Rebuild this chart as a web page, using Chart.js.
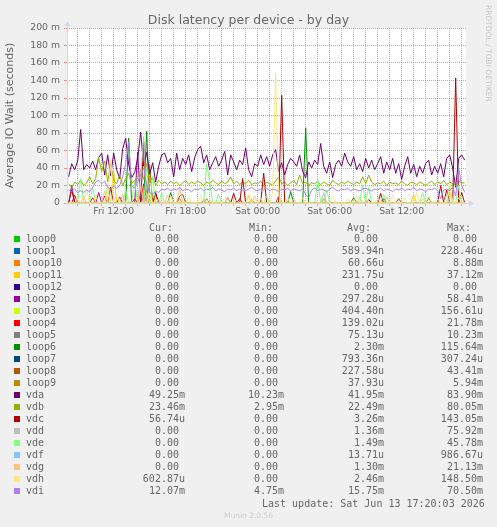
<!DOCTYPE html>
<html><head><meta charset="utf-8">
<script src="https://cdn.jsdelivr.net/npm/chart.js@4.4.1/dist/chart.umd.min.js"></script>
<style>
html,body{margin:0;padding:0;background:#f0f0f0;}
#wrap{position:relative;width:497px;height:527px;overflow:hidden;background:#f0f0f0;}
canvas{position:absolute;left:0;top:0;}
.m{position:absolute;white-space:pre;color:#666;font-family:"DejaVu Sans Mono",monospace;font-size:10px;line-height:12px;}
.sq{position:absolute;width:6px;height:6px;}
#title{position:absolute;left:0;top:12px;width:497px;text-align:center;font-family:"DejaVu Sans",sans-serif;font-size:12.5px;line-height:15px;color:#666;white-space:pre;}
#rrd{position:absolute;left:484px;top:5px;writing-mode:vertical-rl;font-family:"DejaVu Sans",sans-serif;font-size:7.5px;line-height:9px;color:#c8c8c8;white-space:pre;}
#munin{position:absolute;left:0;top:511px;width:497px;text-align:center;font-family:"DejaVu Sans",sans-serif;font-size:7.5px;line-height:9px;color:#cccccc;white-space:pre;}
</style></head>
<body><div id="wrap">
<canvas id="c" width="497" height="527"></canvas>
<div id="title">Disk latency per device - by day</div>
<div id="rrd">RRDTOOL / TOBI OETIKER</div>
<div id="munin">Munin 2.0.56</div>
</div>
<script>
// sample grid: hours since Fri 00:00, one sample every 15 minutes
const T0 = 8.25, STEP = 0.25, NSAMP = 133;
// values in milliseconds (axis shows "m")
const vda = [30,45,38,48,84,38,44,40,48,38,
52,57,32,55,31,57,38,28,62,74,
44,29,35,51,81,42,58,33,46,24,
42,55,57,46,51,30,57,38,51,44,
55,36,52,61,65,46,55,38,46,53,
42,49,59,32,55,47,38,49,44,63,
38,30,45,42,55,44,53,42,55,61,
36,46,32,44,51,47,42,55,36,29,
47,40,49,44,68,42,34,47,29,44,
49,42,57,47,42,53,38,45,36,51,
40,49,38,45,53,34,47,38,51,34,
45,27,42,53,34,44,30,42,34,45,
49,32,42,34,45,30,51,55,40,18,
51,55,49];
const vdb = [22,18,24,21,26,20,23,30,22,28,
52,36,48,24,45,26,22,32,20,28,
34,22,26,30,38,27,45,24,30,20,
26,22,24,21,25,22,24,20,23,26,
21,24,22,25,23,20,24,22,26,23,
21,25,22,24,30,22,25,21,24,22,
26,21,23,22,25,20,24,22,21,25,
30,22,24,20,23,26,21,32,22,24,
20,23,22,25,21,24,22,20,26,23,
21,24,22,25,23,21,24,22,30,22,
32,24,21,23,22,25,20,24,22,23,
21,25,22,20,24,23,21,24,22,20,
23,25,21,24,22,26,21,24,22,20,
25,23,23];
const vdi = [15,13,16,12,14,12,15,13,18,24,
26,22,25,18,16,19,17,20,30,45,
70,20,17,24,32,40,22,12,10,14,
12,16,15,17,14,16,15,18,14,16,
15,13,16,15,17,14,16,15,18,14,
16,15,13,16,15,17,14,16,15,14,
16,18,15,14,16,15,17,14,16,15,
13,16,15,17,14,16,15,14,16,10,
6,15,17,14,16,15,13,16,18,15,
14,16,15,17,14,16,15,14,16,17,
15,14,16,15,17,14,16,15,13,16,
15,17,14,16,15,18,14,16,15,13,
16,15,17,14,5,15,16,14,18,8,
40,20,12];
// sparse series: [hour, value ms]; all other samples are 0
const loop0Pts = [];
const loop1Pts = [[15.75,0.23]];
const loop10Pts = [[14.75,8.9],[17.5,5],[23.5,4]];
const loop11Pts = [[12.0,37],[15.25,10],[23.25,8],[37.0,9],[40.0,12]];
const loop12Pts = [];
const loop2Pts = [[8.5,20],[10.75,12],[14.0,58]];
const loop3Pts = [[20.75,0.16]];
const loop4Pts = [[8.75,9],[10.25,6],[11.25,8],[12.5,7],[13.75,5],[14.5,22],[15.5,10],[22.5,5],[33.25,4]];
const loop5Pts = [[14.25,10.2],[19.75,5],[29.5,4]];
const loop6Pts = [[13.25,74],[14.75,82],[16.75,12],[26.75,13],[28.0,86],[32.0,6],[34.5,5],[38.25,6]];
const loop7Pts = [[25.75,0.31]];
const loop8Pts = [[15.0,43],[17.5,8],[17.75,10],[21.5,6],[25.75,8],[35.75,5]];
const loop9Pts = [[14.75,5.9],[19.5,3]];
const vdcPts = [[8.5,15],[11.75,18],[14.5,70],[15.5,12],[22.0,11],[22.75,28],[24.5,34],[26.0,123],[34.25,11],[39.25,20],[39.75,15],[40.5,143],[41.0,12]];
const vddPts = [[14.25,30],[14.5,76],[29.5,12],[32.5,6],[39.75,10]];
const vdePts = [[9.25,28],[10.25,18],[11.5,20],[13.0,15],[13.75,25],[14.75,41],[15.25,30],[16.0,12],[19.75,44],[20.0,25],[20.75,10],[24.75,8],[29.0,28],[29.75,15],[32.75,21],[33.25,18],[34.5,10],[37.75,12],[40.0,23],[40.75,20]];
const vdfPts = [[14.75,0.99]];
const vdgPts = [[9.5,8],[11.25,14],[12.75,10],[14.25,21],[14.75,12],[16.5,9],[17.5,18],[19.5,6],[21.5,5],[23.75,8],[27.0,5],[29.5,6],[32.0,4],[34.75,7],[37.75,5]];
const vdhPts = [[9.0,6],[9.75,15],[10.5,8],[11.75,50],[12.25,10],[13.25,6],[15.0,12],[15.75,5],[16.75,8],[18.25,6],[19.25,9],[20.0,5],[21.25,7],[22.25,4],[23.25,10],[24.25,6],[25.25,12],[25.5,148.5],[25.75,8],[26.5,5],[27.75,6],[28.75,4],[30.25,8],[31.5,5],[32.25,9],[33.0,6],[34.0,5],[35.25,9],[36.25,6],[37.25,12],[38.25,8],[39.0,5],[40.0,22],[40.75,6]];

const names = ['loop0','loop1','loop10','loop11','loop12','loop2','loop3','loop4','loop5','loop6','loop7','loop8','loop9','vda','vdb','vdc','vdd','vde','vdf','vdg','vdh','vdi'];
const colors = ['#00cc00','#0066b3','#ff8000','#ffcc00','#330099','#990099','#ccff00','#ff0000','#808080','#008f00','#00487d','#b35a00','#b38f00','#6b006b','#8fb300','#b30000','#bebebe','#80ff80','#80c9ff','#ffc080','#ffe680','#aa80ff'];
const curStr = ['0.00','0.00','0.00','0.00','0.00','0.00','0.00','0.00','0.00','0.00','0.00','0.00','0.00','49.25m','23.46m','56.74u','0.00','0.00','0.00','0.00','602.87u','12.07m'];
const minStr = ['0.00','0.00','0.00','0.00','0.00','0.00','0.00','0.00','0.00','0.00','0.00','0.00','0.00','10.23m','2.95m','0.00','0.00','0.00','0.00','0.00','0.00','4.75m'];
const avgStr = ['0.00','589.94n','60.66u','231.75u','0.00','297.28u','404.40n','139.02u','75.13u','2.30m','793.36n','227.58u','37.93u','41.95m','22.49m','3.26m','1.36m','1.49m','13.71u','1.30m','2.46m','15.75m'];
const maxStr = ['0.00','228.46u','8.88m','37.12m','0.00','58.41m','156.61u','21.78m','10.23m','115.64m','307.24u','43.41m','5.94m','83.90m','80.05m','143.05m','75.92m','45.78m','986.67u','21.13m','148.50m','70.50m'];

const xGridHours = [9,10,11,12,13,14,15,16,17,18,19,20,21,22,23,24,25,26,27,28,29,30,31,32,33,34,35,36,37,38,39,40,41];
const xTickHours = [12,18,24,30,36];
const xTickLabels = ['Fri 12:00','Fri 18:00','Sat 00:00','Sat 06:00','Sat 12:00'];
const yGridValues = [0,10,20,30,40,50,60,70,80,90,100,110,120,130,140,150,160,170,180,190,200];
const yTickValues = [0,20,40,60,80,100,120,140,160,180,200];
const yTickLabels = ['0','20 m','40 m','60 m','80 m','100 m','120 m','140 m','160 m','180 m','200 m'];

const times = [];
for (let k = 0; k < NSAMP; k++) times.push(T0 + k * STEP);
function fromPts(pts) {
  const arr = times.map(() => 0);
  pts.forEach(([h, v]) => { arr[Math.round((h - T0) / STEP)] = v; });
  return arr;
}
const seriesData = [fromPts(loop0Pts),fromPts(loop1Pts),fromPts(loop10Pts),fromPts(loop11Pts),fromPts(loop12Pts),
  fromPts(loop2Pts),fromPts(loop3Pts),fromPts(loop4Pts),fromPts(loop5Pts),fromPts(loop6Pts),fromPts(loop7Pts),
  fromPts(loop8Pts),fromPts(loop9Pts),vda,vdb,fromPts(vdcPts),fromPts(vddPts),fromPts(vdePts),fromPts(vdfPts),
  fromPts(vdgPts),fromPts(vdhPts),vdi];

const MAJOR = 'rgba(222,79,79,0.6)';
const MINOR = 'rgba(128,128,128,0.5)';
const AXIS = '#cfd6f8';

const bgPlugin = {
  id: 'bg',
  beforeDraw(chart) {
    const a = chart.chartArea, ctx = chart.ctx;
    ctx.save(); ctx.fillStyle = '#ffffff';
    ctx.fillRect(a.left, a.top, a.right - a.left, a.bottom - a.top);
    ctx.restore();
  },
  afterDraw(chart) {
    const a = chart.chartArea, ctx = chart.ctx;
    ctx.save();
    ctx.strokeStyle = AXIS; ctx.fillStyle = AXIS; ctx.lineWidth = 1;
    const x0 = Math.round(a.left) + 0.5, y0 = Math.round(a.bottom) + 0.5;
    ctx.beginPath(); ctx.moveTo(x0, y0 + 2); ctx.lineTo(x0, a.top - 4); ctx.stroke();
    ctx.beginPath(); ctx.moveTo(x0 - 3, a.top - 2); ctx.lineTo(x0 + 3, a.top - 2); ctx.lineTo(x0, a.top - 7); ctx.closePath(); ctx.fill();
    ctx.beginPath(); ctx.moveTo(x0 - 2, y0); ctx.lineTo(a.right + 4, y0); ctx.stroke();
    ctx.beginPath(); ctx.moveTo(a.right + 3, y0 - 3); ctx.lineTo(a.right + 3, y0 + 3); ctx.lineTo(a.right + 8, y0); ctx.closePath(); ctx.fill();
    ctx.restore();
  }
};

const datasets = names.map((n, i) => ({
  label: n,
  data: seriesData[i].map((v, k) => ({ x: times[k], y: v })),
  borderColor: colors[i],
  backgroundColor: colors[i],
  borderWidth: 1,
  pointRadius: 0,
  fill: false,
  tension: 0,
  order: names.length - i
}));

const tickFont = { family: 'DejaVu Sans', size: 9.3 };
new Chart(document.getElementById('c'), {
  type: 'line',
  data: { datasets },
  options: {
    responsive: false,
    animation: false,
    devicePixelRatio: 1,
    events: [],
    layout: { padding: { left: 0, right: 31, top: 28, bottom: 300 } },
    plugins: { legend: { display: false }, tooltip: { enabled: false }, title: { display: false } },
    scales: {
      x: {
        type: 'linear', min: 8.11, max: 41.36,
        afterBuildTicks: s => { s.ticks = xGridHours.map(v => ({ value: v })); },
        afterFit: s => { s.height = 24; },
        ticks: {
          autoSkip: false, maxRotation: 0, minRotation: 0, padding: 0, color: '#666', font: tickFont,
          callback: v => { const k = xTickHours.indexOf(v); return k >= 0 ? xTickLabels[k] : ''; }
        },
        grid: {
          color: c => (c.tick && c.tick.value % 3 === 0) ? MAJOR : MINOR,
          tickColor: c => (c.tick && c.tick.value % 3 === 0) ? MAJOR : MINOR,
          drawTicks: true, tickLength: 3, lineWidth: 1
        },
        border: { display: false, dash: [1, 1] }
      },
      y: {
        type: 'linear', min: 0, max: 200,
        afterBuildTicks: s => { s.ticks = yGridValues.map(v => ({ value: v })); },
        afterFit: s => { s.width = 67; },
        ticks: {
          padding: 4, color: '#666', font: tickFont,
          callback: v => { const k = yTickValues.indexOf(v); return k >= 0 ? yTickLabels[k] : ''; }
        },
        grid: {
          color: c => (c.tick && c.tick.value % 20 === 0) ? MAJOR : MINOR,
          tickColor: c => (c.tick && c.tick.value % 20 === 0) ? MAJOR : MINOR,
          drawTicks: true, tickLength: 3, lineWidth: 1
        },
        border: { display: false, dash: [1, 1] },
        title: { display: true, text: 'Average IO Wait (seconds)', color: '#666',
          font: { family: 'DejaVu Sans', size: 11 }, padding: { top: 4, bottom: 0 } }
      }
    }
  },
  plugins: [bgPlugin]
});

// legend (munin-style text table)
const wrap = document.getElementById('wrap');
function addText(txt, opts) {
  const d = document.createElement('div');
  d.className = 'm';
  d.textContent = txt;
  if (opts.left !== undefined) d.style.left = opts.left + 'px';
  if (opts.right !== undefined) d.style.right = opts.right + 'px';
  d.style.top = opts.top + 'px';
  wrap.appendChild(d);
}
function unitPad(s) { return /[0-9]$/.test(s) ? s + ' ' : s; }
const W = 497;
addText('Cur:', { left: 149, top: 222 });
addText('Min:', { left: 249, top: 222 });
addText('Avg:', { left: 347, top: 222 });
addText('Max:', { left: 447, top: 222 });
names.forEach((n, i) => {
  const cy = 239.3 + 12 * i;
  const sq = document.createElement('div');
  sq.className = 'sq';
  sq.style.left = '14px';
  sq.style.top = Math.round(cy - 3) + 'px';
  sq.style.background = colors[i];
  wrap.appendChild(sq);
  const top = Math.round(cy - 6);
  addText(n, { left: 26, top });
  addText(unitPad(curStr[i]), { right: W - 185, top });
  addText(unitPad(minStr[i]), { right: W - 284, top });
  addText(unitPad(avgStr[i]), { right: W - 384, top });
  addText(unitPad(maxStr[i]), { right: W - 483, top });
});
addText('Last update: Sat Jun 13 17:20:03 2026', { left: 262, top: 498 });
</script>
</body></html>
